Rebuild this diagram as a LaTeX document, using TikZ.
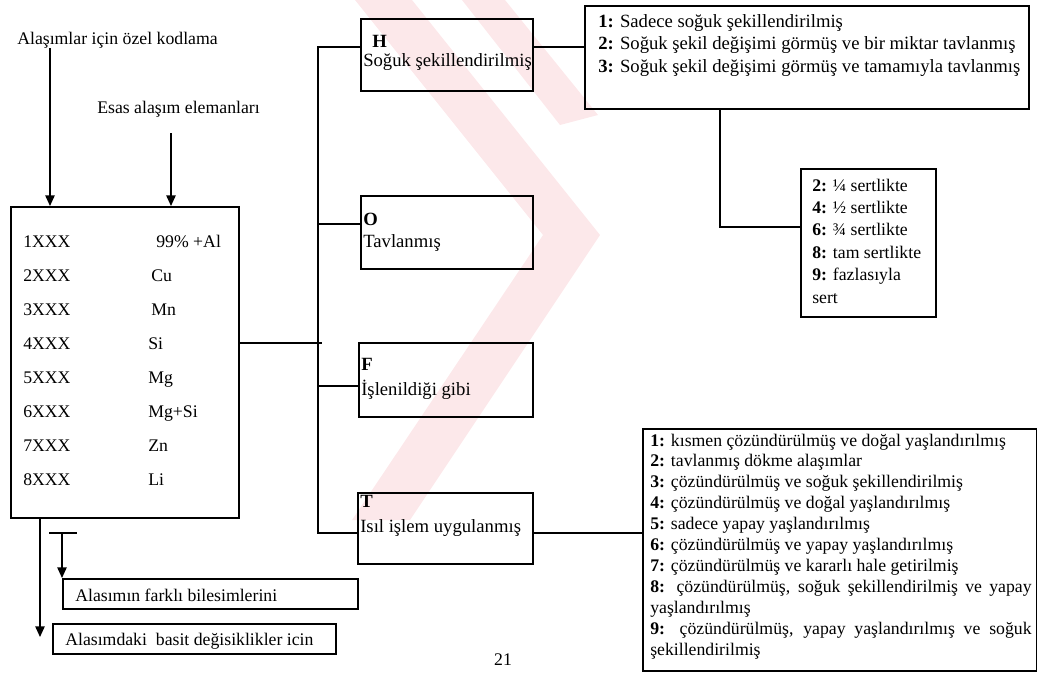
\documentclass[tikz,border=0pt]{standalone}
\usepackage{fontspec}
\setmainfont{Liberation Serif}
\usetikzlibrary{arrows.meta}
\newcommand\fs{\fontsize{13.3}{15}\selectfont}
\newcommand\fb{\fontsize{14}{16}\selectfont}
\definecolor{wm}{RGB}{252,232,234}
\tikzset{
  box/.style={draw, line width=1.2pt, rectangle, inner sep=0pt, anchor=north west},
  txt/.style={anchor=base west, inner sep=0pt, font=\fs},
  btxt/.style={anchor=base west, inner sep=0pt, font=\fb},
  conn/.style={line width=1.2pt},
  arr/.style={line width=1.2pt, -{Triangle[length=8pt,width=7pt]}},
  wmark/.style={fill=wm, draw=none},
}
\begin{document}
\begin{tikzpicture}[x=0.75pt,y=-0.75pt]
\useasboundingbox (0,0) rectangle (1037,683);
% watermark
\fill[wmark] (355,0) -- (412,0) -- (600,235) -- (410,520) -- (352,520) -- (543,235) -- cycle;
\fill[wmark] (462,0) -- (505,0) -- (598,115) -- (560,125) -- cycle;
% titles
\node[txt] (t1) at (17,44) {Alaşımlar için özel kodlama};
\node[txt] (t2) at (97,113) {Esas alaşım elemanları};
% main box
\node[box, minimum width=228*0.75pt, minimum height=311*0.75pt] (main) at (10,206) {};
\coordinate (a1) at (50,206);
\coordinate (a2) at (171,206);
\draw[arr] (t1.south -| a1) -- (a1);
\draw[arr] (a2 |- 0,133) -- (a2);
\foreach \n/\e/\ex [count=\i from 0] in {1/99\% +Al/156, 2/Cu/151, 3/Mn/151, 4/Si/148, 5/Mg/148, 6/Mg+Si/148, 7/Zn/148, 8/Li/148}{
  \node[txt] (code\n) at (23,247+34*\i) {\n XXX};
  \node[txt] (el\n) at (\ex,247+34*\i) {\e};
}
% category boxes
\node[box, minimum width=172*0.75pt, minimum height=72*0.75pt] (Hbox) at (360,18) {};
\node[btxt, font=\fb\bfseries] (Hl) at (372,47) {H};
\node[btxt] (Ht) at (363,66) {Soğuk şekillendirilmiş};
\node[box, minimum width=172*0.75pt, minimum height=73*0.75pt] (Obox) at (360,195) {};
\node[btxt, font=\fb\bfseries] (Ol) at (363,225) {O};
\node[btxt] (Ot) at (363,247) {Tavlanmış};
\node[box, minimum width=174*0.75pt, minimum height=74*0.75pt] (Fbox) at (358,342) {};
\node[btxt, font=\fb\bfseries] (Fl) at (361,370) {F};
\node[btxt] (Ft) at (361,395) {İşlenildiği gibi};
\node[box, minimum width=175*0.75pt, minimum height=71*0.75pt] (Tbox) at (357,492) {};
\node[btxt, font=\fb\bfseries] (Tl) at (360,507) {T};
\node[btxt] (Tt) at (360,532) {Isıl işlem uygulanmış};
% bus
\coordinate (busH) at (318,47);
\coordinate (busO) at (318,224);
\coordinate (busF) at (318,386);
\coordinate (busT) at (318,533);
\coordinate (busM) at (322,343);
\draw[conn] (main.east |- busM) -- (busM);
\draw[conn] (Hbox.west |- busH) -- (busH) -- (busT) -- (Tbox.west |- busT);
\draw[conn] (busO) -- (Obox.west |- busO);
\draw[conn] (busF) -- (Fbox.west |- busF);
% H list
\node[box, minimum width=444*0.75pt, minimum height=103*0.75pt] (Hlist) at (584,5) {};
\node[btxt] (h1) at (598,27) {\textbf{1:} Sadece soğuk şekillendirilmiş};
\node[btxt] (h2) at (598,49) {\textbf{2:} Soğuk şekil değişimi görmüş ve bir miktar tavlanmış};
\node[btxt] (h3) at (598,72) {\textbf{3:} Soğuk şekil değişimi görmüş ve tamamıyla tavlanmış};
\draw[conn] (Hbox.east |- busH) -- (Hlist.west |- busH);
% hardness box
\node[box, minimum width=135*0.75pt, minimum height=148*0.75pt] (hard) at (800,168) {};
\foreach \t [count=\i from 0] in {{\textbf{2:} ¼ sertlikte},{\textbf{4:} ½ sertlikte},{\textbf{6:} ¾ sertlikte},{\textbf{8:} tam sertlikte},{\textbf{9:} fazlasıyla},{sert}}{
  \node[txt] (hd\i) at (812,191+22.4*\i) {\t};
}
\coordinate (hk) at (720,227);
\draw[conn] (Hlist.south -| hk) -- (hk) -- (hard.west |- hk);
% T list
\node[box, minimum width=394*0.75pt, minimum height=242*0.75pt] (Tlist) at (642,428) {};
\draw[conn] (Tbox.east |- busT) -- (Tlist.west |- busT);
\newcommand\jl[1]{\makebox[286pt][s]{#1}}
\foreach \t [count=\i from 0] in {
 {\textbf{1:} kısmen çözündürülmüş ve doğal yaşlandırılmış},
 {\textbf{2:} tavlanmış dökme alaşımlar},
 {\textbf{3:} çözündürülmüş ve soğuk şekillendirilmiş},
 {\textbf{4:} çözündürülmüş ve doğal yaşlandırılmış},
 {\textbf{5:} sadece yapay yaşlandırılmış},
 {\textbf{6:} çözündürülmüş ve yapay yaşlandırılmış},
 {\textbf{7:} çözündürülmüş ve kararlı hale getirilmiş},
 {\jl{\textbf{8:} çözündürülmüş, soğuk şekillendirilmiş ve yapay}},
 {yaşlandırılmış},
 {\jl{\textbf{9:} çözündürülmüş, yapay yaşlandırılmış ve soğuk}},
 {şekillendirilmiş}}{
  \node[txt] (tl\i) at (650,446+20.9*\i) {\t};
}
% bottom part
\coordinate (b2tip) at (40,637);
\draw[arr] (main.south -| b2tip) -- (b2tip);
\coordinate (tbL) at (49,533);
\coordinate (tbR) at (77,533);
\coordinate (tbM) at (62,533);
\draw[conn] (tbL) -- (tbR);
\node[box, minimum width=295*0.75pt, minimum height=30*0.75pt] (b1) at (62,578) {};
\draw[arr] (tbM) -- (b1.north west);
\node[txt] (b1t) at (75,601) {Alasımın farklı bilesimlerini};
\node[box, minimum width=283*0.75pt, minimum height=30*0.75pt] (b2) at (52,623) {};
\node[txt] (b2t) at (65,645) {Alasımdaki\ \ basit değisiklikler icin};
\node[txt, anchor=base] (pg) at (503,665) {21};
\end{tikzpicture}
\end{document}
